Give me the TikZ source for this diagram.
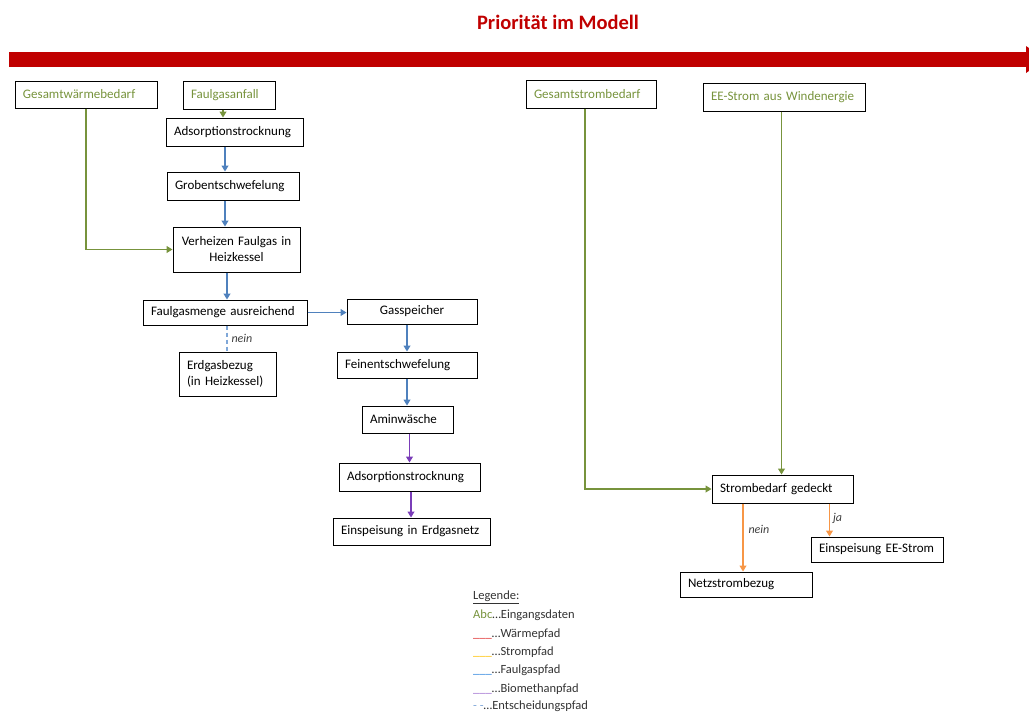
\documentclass[tikz,border=0pt]{standalone}
\usepackage{fontspec}
\setmainfont{Carlito}
\usetikzlibrary{arrows.meta,calc}
\definecolor{prio}{HTML}{C00000}
\definecolor{ingreen}{HTML}{77933C}
\definecolor{gasblue}{HTML}{4F81BD}
\definecolor{biopurple}{HTML}{7A3DB8}
\definecolor{powerorange}{HTML}{F79646}
\definecolor{decblue}{HTML}{7FA7D8}
\definecolor{legred}{HTML}{E03030}
\definecolor{legyellow}{HTML}{FFC000}
\definecolor{legblue}{HTML}{2E86DE}
\definecolor{legpurple}{HTML}{A070D0}
\newcommand\keep[1]{\mbox{#1}}
\begin{document}
\begin{tikzpicture}[x=1pt,y=-1pt,
  box/.style={draw=black, line width=1pt, inner xsep=8pt, inner ysep=0pt,
    align=left, font=\fontsize{13}{16}\selectfont},
  cbox/.style={box, align=center},
  input/.style={box, text=ingreen},
  link/.style={line width=1.1pt, -{Triangle[width=7pt,length=6pt]}},
  heat/.style={link, ingreen},
  gas/.style={link, gasblue},
  bio/.style={link, biopurple},
  power/.style={link, powerorange},
  decision/.style={line width=1.1pt, decblue, dash pattern=on 4pt off 3pt},
  choice/.style={font=\fontsize{12}{14}\selectfont\itshape, text=black!75, inner sep=1pt},
  legend/.style={anchor=west, inner sep=0pt, font=\fontsize{12.5}{15}\selectfont, text=black!80}
]
\clip (0,0) rectangle (1029,713);

% title and priority bar
\node[font=\fontsize{20.5}{23}\selectfont\bfseries, text=prio] (title) at (558,22) {Priorität im Modell};
\fill[prio] (9,52) rectangle (1026,67);
\fill[prio] (1026,46) -- (1046,59.5) -- (1026,73) -- cycle;

% heat and digester gas chain
\node[input, text width=126pt, minimum height=27pt] (gwb) at (86,94.5) {\keep{Gesamtwärmebedarf}};
\node[input, text width=76pt, minimum height=28pt] (fga) at (229,95) {\keep{Faulgasanfall}};
\node[box, text width=121pt, minimum height=28pt] (ads1) at (234.5,132) {\keep{Adsorptionstrocknung}};
\node[box, text width=116pt, minimum height=28pt] (grob) at (233,186) {\keep{Grobentschwefelung}};
\node[cbox, text width=111pt, minimum height=45pt] (verh) at (236.5,249.5) {\keep{Verheizen Faulgas in}\\\keep{Heizkessel}};
\node[box, text width=148pt, minimum height=25pt] (fgm) at (225,312.5) {\keep{Faulgasmenge ausreichend}};
\node[box, text width=81pt, minimum height=44pt] (erd) at (227.5,374) {\keep{Erdgasbezug}\\\keep{(in Heizkessel)}};

% biomethane chain
\node[cbox, text width=114pt, minimum height=25pt] (gsp) at (412,311.5) {\keep{Gasspeicher}};
\node[box, text width=124pt, minimum height=26pt] (fein) at (407,365) {\keep{Feinentschwefelung}};
\node[box, text width=75pt, minimum height=27pt] (amin) at (407.5,419.5) {\keep{Aminwäsche}};
\node[box, text width=125pt, minimum height=28pt] (ads2) at (409.5,477) {\keep{Adsorptionstrocknung}};
\node[box, text width=141pt, minimum height=27pt] (einE) at (411.5,531.5) {\keep{Einspeisung in Erdgasnetz}};

% power chain
\node[input, text width=114pt, minimum height=28pt] (gsb) at (591,94) {\keep{Gesamtstrombedarf}};
\node[input, text width=146pt, minimum height=28pt] (ee) at (784,97) {\keep{EE-Strom aus Windenergie}};
\node[box, text width=125pt, minimum height=28pt] (sbg) at (782.5,489) {\keep{Strombedarf gedeckt}};
\node[box, text width=116pt, minimum height=25pt] (eins) at (877,549.5) {\keep{Einspeisung EE-Strom}};
\node[box, text width=116pt, minimum height=25pt] (netz) at (746,584.5) {\keep{Netzstrombezug}};

% connectors
\draw[heat] (gwb.south) |- (verh.west);
\draw[heat] ([xshift=-6pt]fga.south) -- ([xshift=-6pt]fga.south |- ads1.north);
\draw[gas] ([xshift=-9.5pt]ads1.south) -- ([xshift=-9.5pt]ads1.south |- grob.north);
\draw[gas] ([xshift=-8pt]grob.south) -- ([xshift=-8pt]grob.south |- verh.north);
\draw[gas] ([xshift=-9.5pt]verh.south) -- ([xshift=-9.5pt]verh.south |- fgm.north);
\draw[gas] (fgm.east) -- (fgm.east -| gsp.west);
\draw[decision] ([xshift=2pt]fgm.south) -- ([xshift=2pt]fgm.south |- erd.north)
  node[choice, midway, right=3pt] (nein1) {nein};
\draw[gas] ([xshift=-5pt]gsp.south) -- ([xshift=-5pt]gsp.south |- fein.north);
\draw[gas] (fein.south) -- (fein.south |- amin.north);
\draw[bio] ([xshift=2pt]amin.south) -- ([xshift=2pt]amin.south |- ads2.north);
\draw[bio] ([xshift=1.5pt]ads2.south) -- ([xshift=1.5pt]ads2.south |- einE.north);
\draw[heat] ([xshift=-6pt]gsb.south) |- (sbg.west);
\draw[heat] ([xshift=-2.5pt]ee.south) -- ([xshift=-2.5pt]ee.south |- sbg.north);
\draw[power] ([xshift=-39.5pt]sbg.south) -- ([xshift=-39.5pt]sbg.south |- netz.north)
  node[choice, pos=0.38, right=4pt] (nein2) {nein};
\draw[power] ([xshift=47pt]sbg.south) -- ([xshift=47pt]sbg.south |- eins.north)
  node[choice, pos=0.45, right=2pt] (ja) {ja};

% legend
\node[legend] (lg0) at (473,597) {\underline{Legende:}};
\node[legend] (lg1) at (473,615.5) {{\color{ingreen}Abc}…Eingangsdaten};
\node[legend] (lg2) at (473,634) {{\color{legred}\_\_\_}…Wärmepfad};
\node[legend] (lg3) at (473,652) {{\color{legyellow}\_\_\_}…Strompfad};
\node[legend] (lg4) at (473,670.5) {{\color{legblue}\_\_\_}…Faulgaspfad};
\node[legend] (lg5) at (473,689) {{\color{legpurple}\_\_\_}…Biomethanpfad};
\node[legend] (lg6) at (473,706.5) {{\color{decblue}- -}…Entscheidungspfad};
\end{tikzpicture}
\end{document}
